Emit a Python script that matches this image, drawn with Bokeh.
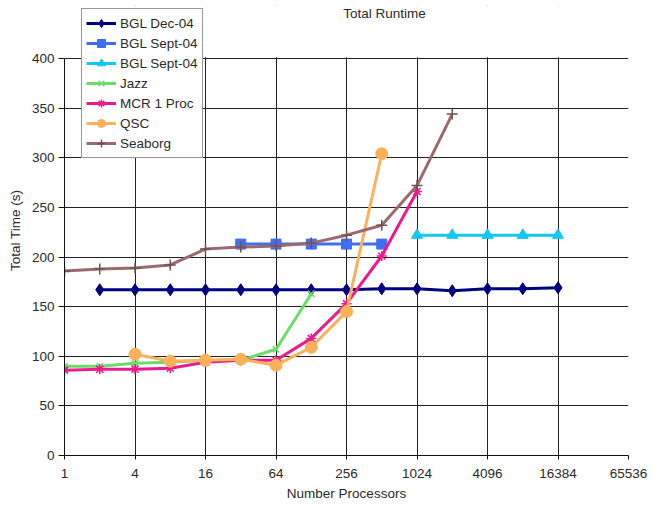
from bokeh.plotting import figure
from bokeh.models import (FixedTicker, NumeralTickFormatter, Legend, LegendItem,
                          Label, Range1d, BoxAnnotation)
from bokeh.embed import file_html
from bokeh.resources import INLINE

# ---------------- data ----------------
x_bgl_dec = [2, 4, 8, 16, 32, 64, 128, 256, 512, 1024, 2048, 4096, 8192, 16384]
bgl_dec = [167, 167, 167, 167, 167, 167, 167, 167, 168, 168, 166, 168, 168, 169]

x_bgl_sept_a = [32, 64, 128, 256, 512]
bgl_sept_a = [213, 213, 213, 213, 213]

x_bgl_sept_b = [1024, 2048, 4096, 8192, 16384]
bgl_sept_b = [222, 222, 222, 222, 222]

x_jazz = [1, 2, 4, 8, 16, 32, 64, 128]
jazz = [90, 90, 93, 94, 96, 96, 107, 163]

x_mcr = [1, 2, 4, 8, 16, 32, 64, 128, 256, 512, 1024]
mcr = [86, 87, 87, 88, 94, 96, 96, 118, 153, 201, 266]

x_qsc = [4, 8, 16, 32, 64, 128, 256, 512]
qsc = [102, 95, 96, 97, 91, 109, 145, 304]

x_seaborg = [1, 2, 4, 8, 16, 32, 64, 128, 256, 512, 1024, 2048]
seaborg = [186, 188, 189, 192, 208, 210, 211, 214, 222, 232, 272, 344]

x_ticks = [1, 4, 16, 64, 256, 1024, 4096, 16384, 65536]
y_ticks = [0, 50, 100, 150, 200, 250, 300, 350, 400]
Y_MAX = 400

FONT = "Liberation Sans"
TXT = "#2a2a2a"

# the frame reaches to the top of the page so that the legend and the title
# (which sit above the 400 line in the reference) are not clipped
TOP_PAD = 5
PX_PER_UNIT = 397.0 / Y_MAX
y_end = Y_MAX + (58 - TOP_PAD) / PX_PER_UNIT

p = figure(width=654, height=507, output_backend="svg", toolbar_location=None,
           x_axis_type="log", x_range=Range1d(1, 65536), y_range=Range1d(0, y_end),
           min_border_left=64, min_border_right=26, min_border_top=TOP_PAD,
           min_border_bottom=52)
p.background_fill_color = "white"
p.border_fill_color = "white"
p.outline_line_color = None

# axes
p.xaxis.ticker = FixedTicker(ticks=x_ticks)
p.xaxis.formatter = NumeralTickFormatter(format="0")
p.yaxis.ticker = FixedTicker(ticks=y_ticks)
p.yaxis.bounds = (0, Y_MAX)
for ax in (p.xaxis[0], p.yaxis[0]):
    ax.axis_line_color = "#111111"
    ax.axis_line_width = 1
    ax.major_tick_line_color = "#111111"
    ax.major_tick_in = 0
    ax.minor_tick_line_color = None
    ax.major_label_text_font = FONT
    ax.major_label_text_font_size = "13.5px"
    ax.major_label_text_color = TXT
    ax.axis_label_text_font = FONT
    ax.axis_label_text_font_size = "13.5px"
    ax.axis_label_text_font_style = "normal"
    ax.axis_label_text_color = TXT
p.xaxis.major_tick_out = 4
p.xaxis.major_label_standoff = 9
p.xaxis.axis_label = "Number Processors"
p.xaxis.axis_label_standoff = 5
p.yaxis.major_tick_out = 6
p.yaxis.major_label_standoff = 4
p.yaxis.axis_label = "Total Time (s)"
p.yaxis.axis_label_standoff = 6

# grid
p.xgrid.ticker = FixedTicker(ticks=x_ticks)
p.ygrid.ticker = FixedTicker(ticks=y_ticks)
for g in (p.xgrid[0], p.ygrid[0]):
    g.grid_line_color = "#222222"
    g.grid_line_width = 1
    g.grid_line_alpha = 1.0

# hide the vertical grid lines above the 400 line
p.add_layout(BoxAnnotation(bottom=Y_MAX + 1.2, fill_color="white", fill_alpha=1.0,
                           line_color=None, level="underlay"))

LW = 3
series = [
    ("BGL Dec-04", x_bgl_dec, bgl_dec, "#000080", "diamond", 12, "#000080"),
    ("BGL Sept-04", x_bgl_sept_a, bgl_sept_a, "#3f6ff0", "square", 10, "#3f6ff0"),
    ("BGL Sept-04", x_bgl_sept_b, bgl_sept_b, "#10c8f0", "triangle", 11, "#10c8f0"),
    ("Jazz", x_jazz, jazz, "#6adc6a", "x", 9, "#6adc6a"),
    ("MCR 1 Proc", x_mcr, mcr, "#ec1a8c", "asterisk", 10, "#ec1a8c"),
    ("QSC", x_qsc, qsc, "#fbb05a", "circle", 12, "#fbb05a"),
    ("Seaborg", x_seaborg, seaborg, "#9a6a6e", "cross", 11, "#6e5055"),
]

items = []
for name, xs, ys, col, mk, sz, mcol in series:
    r1 = p.line(xs, ys, line_color=col, line_width=LW)
    if mk in ("x", "asterisk", "cross"):
        r2 = p.scatter(xs, ys, marker=mk, size=sz, line_color=mcol, line_width=1.5,
                       fill_color=None)
    else:
        r2 = p.scatter(xs, ys, marker=mk, size=sz, line_color=mcol, fill_color=mcol,
                       line_width=1)
    items.append(LegendItem(label=name, renderers=[r1, r2]))

legend = Legend(items=items, location=(17, 297), orientation="vertical",
                label_text_font=FONT, label_text_font_size="13.5px",
                label_text_color=TXT, glyph_width=30, glyph_height=20,
                label_height=20, label_standoff=4, spacing=0, padding=4,
                margin=0, border_line_color="#333333", border_line_width=1,
                background_fill_color="white", background_fill_alpha=1.0)
p.add_layout(legend, "center")

title = Label(x=320, y=442, x_units="screen", y_units="screen", text="Total Runtime",
              text_font=FONT, text_font_size="13.5px", text_color=TXT,
              text_align="center", text_baseline="middle")
p.add_layout(title)

open("out.html", "w").write(file_html(p, INLINE))
